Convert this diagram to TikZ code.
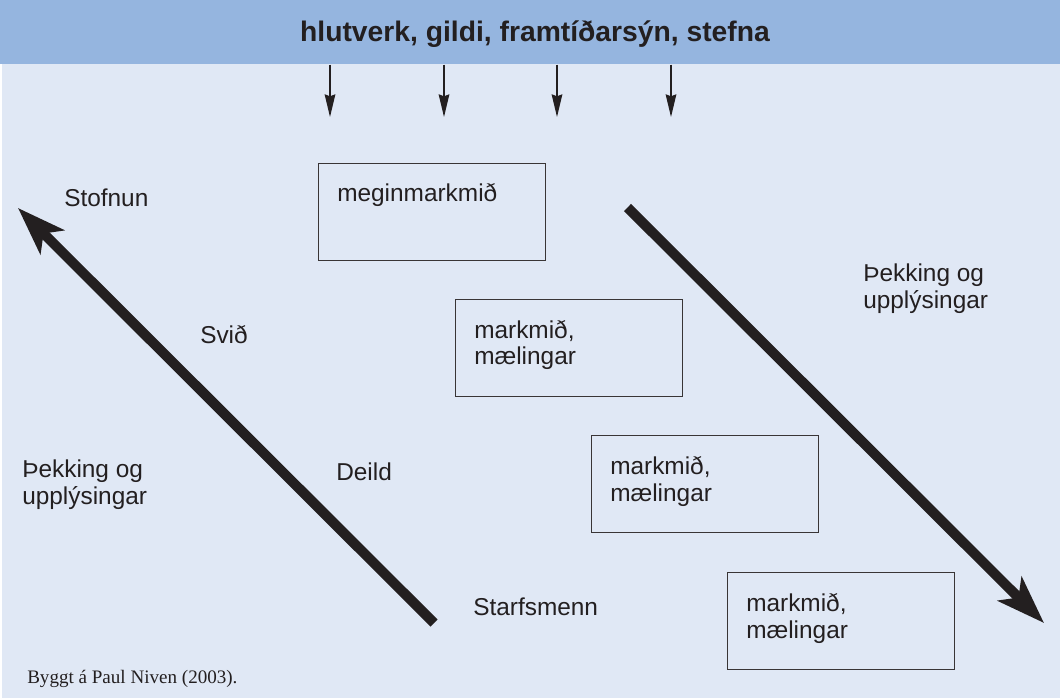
\documentclass[tikz,border=0pt]{standalone}
\usepackage{fontspec}
\setmainfont{Liberation Sans}
\newfontfamily\notefont{Liberation Serif}
\usetikzlibrary{arrows.meta}
\definecolor{band}{HTML}{95B5DF}
\definecolor{paper}{HTML}{E0E8F5}
\definecolor{ink}{HTML}{231F20}
\begin{document}
\begin{tikzpicture}[x=0.75pt,y=-0.75pt,
  lbl/.style={anchor=base west,inner sep=0pt,text=ink,align=left,
    font=\fontsize{18.3}{20.25}\selectfont},
  goalbox/.style={draw=ink!90,line width=1.1pt,anchor=north west,
    minimum width=170.25pt,minimum height=72.75pt,inner sep=0pt},
  downarrow/.style={draw=ink,line width=1pt,-{Stealth[length=17pt,width=8pt,inset=1.5pt]}},
  bigarrow/.style={draw=ink,line width=7.5pt,-{Stealth[length=36pt,width=25pt,inset=9pt]}}
]
% page and header band
\useasboundingbox (0,0) rectangle (1060,698);
\fill[white] (0,0) rectangle (1060,698);
\fill[paper] (2,0) rectangle (1060,698);
\node (hdr) [fill=band,anchor=north west,inner sep=0pt,
  minimum width=795pt,minimum height=48pt] at (0,0) {};
\node (title) [anchor=base,inner sep=0pt,text=ink,
  font=\fontsize{21.2}{24}\selectfont\bfseries] at (535,41.7)
  {hlutverk, gildi, framtíðarsýn, stefna};

% arrows coming down from the band
\foreach \i/\x in {1/330,2/444,3/557,4/671}{
  \coordinate (d\i) at (\x,117);
  \draw[downarrow] (hdr.south -| d\i) -- (d\i);
}

% goal boxes (two-line labels are placed by the baseline of their last line)
\node (b1) [goalbox] at (318,163) {};
\node (b2) [goalbox] at (455,299) {};
\node (b3) [goalbox] at (591,435) {};
\node (b4) [goalbox] at (727,572) {};
\node (t1) [lbl] at ([xshift=14.25pt,yshift=-29.25pt]b1.north west) {meginmarkmið};
\node (t2) [lbl] at ([xshift=14.25pt,yshift=-49.5pt]b2.north west) {markmið,\\mælingar};
\node (t3) [lbl] at ([xshift=14.25pt,yshift=-49.5pt]b3.north west) {markmið,\\mælingar};
\node (t4) [lbl] at ([xshift=14.25pt,yshift=-49.5pt]b4.north west) {markmið,\\mælingar};

% levels of the organisation
\node (lvl1) [lbl] at (64,207) {Stofnun};
\node (lvl2) [lbl] at (200,344) {Svið};
\node (lvl3) [lbl] at (336,480) {Deild};
\node (lvl4) [lbl] at (473,615) {Starfsmenn};
\node (infoL) [lbl] at (22,504) {Þekking og\\upplýsingar};
\node (infoR) [lbl] at (863,309) {Þekking og\\upplýsingar};

% the two big arrows
\coordinate (up0) at (434,623);
\coordinate (up1) at (18,208);
\coordinate (dn0) at (627.5,207.5);
\coordinate (dn1) at (1044,623);
\draw[bigarrow] (up0) -- (up1);
\draw[bigarrow] (dn0) -- (dn1);

% source note
\node (src) [anchor=base west,inner sep=0pt,text=ink,
  font=\notefont\fontsize{14.3}{16}\selectfont] at (27,683)
  {Byggt á Paul Niven (2003).};
\end{tikzpicture}
\end{document}
